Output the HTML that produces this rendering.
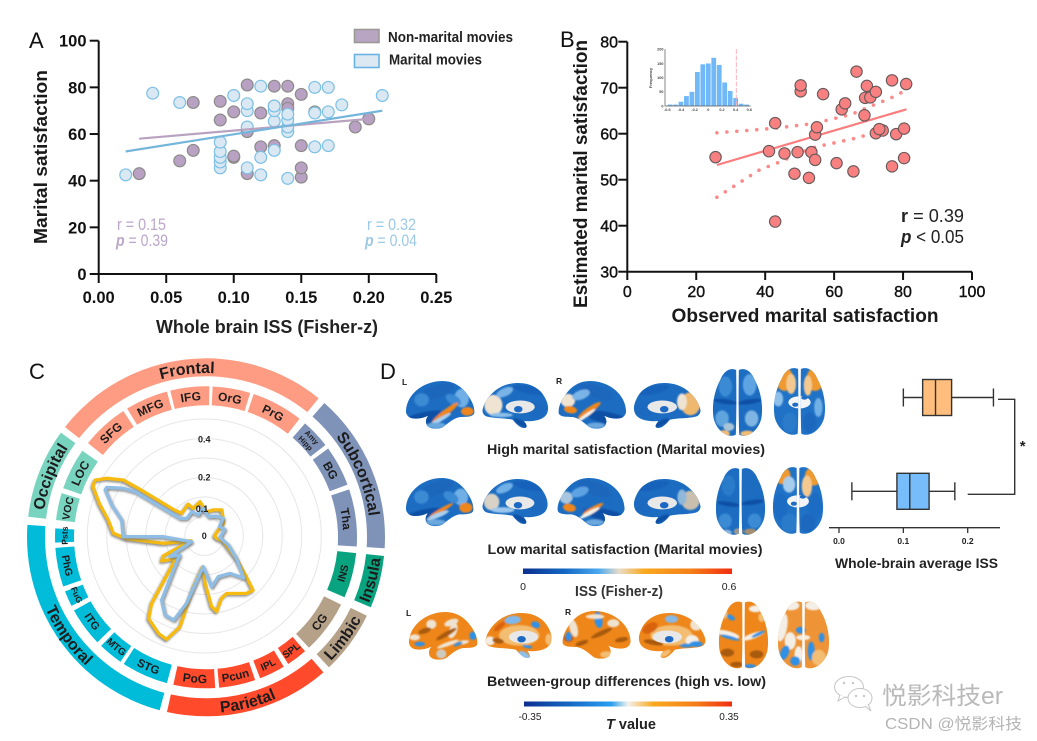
<!DOCTYPE html>
<html lang="en">
<head>
<meta charset="utf-8">
<title>Marital satisfaction and inter-subject synchrony figure</title>
<style>
html,body{margin:0;padding:0;background:#fff;}
svg{display:block;font-family:"Liberation Sans","Noto Sans CJK SC",sans-serif;}
</style>
</head>
<body>
<svg id="fig" xmlns="http://www.w3.org/2000/svg" width="1037" height="741" viewBox="0 0 1037 741">
<defs>
  <linearGradient id="issGrad" x1="0" x2="1" y1="0" y2="0">
    <stop offset="0" stop-color="#0b2f8f"/><stop offset=".2" stop-color="#1568c4"/><stop offset=".36" stop-color="#4aa8ee"/>
    <stop offset=".46" stop-color="#e9dcc8"/><stop offset=".58" stop-color="#f8a91f"/><stop offset=".8" stop-color="#f5801a"/><stop offset="1" stop-color="#f22d10"/>
  </linearGradient>
  <linearGradient id="tGrad" x1="0" x2="1" y1="0" y2="0">
    <stop offset="0" stop-color="#0b2f8f"/><stop offset=".22" stop-color="#1568c4"/><stop offset=".42" stop-color="#29a0f0"/>
    <stop offset=".5" stop-color="#f3f1ec"/><stop offset=".62" stop-color="#f8a91f"/><stop offset=".82" stop-color="#f5801a"/><stop offset="1" stop-color="#f22d10"/>
  </linearGradient>
  <filter id="soft" x="-20%" y="-20%" width="140%" height="140%"><feGaussianBlur stdDeviation="2.6"/></filter>
  <filter id="shadow" x="-20%" y="-20%" width="140%" height="140%"><feGaussianBlur stdDeviation="1.2"/></filter>
  <clipPath id="clip-lateral"><path d="M3,92 C5,55 35,18 85,6 C120,-2 155,5 180,35 C197,55 210,80 208,100 C205,112 185,112 165,112 C150,115 135,125 118,140 C105,150 80,150 68,140 C60,130 62,118 70,108 C50,118 25,120 12,112 C5,106 2,100 3,92 Z"/></clipPath>
  <clipPath id="clip-medial"><path d="M2,85 C10,50 45,12 90,5 C130,-2 175,10 195,50 C205,70 207,85 200,100 C190,118 160,125 130,122 C135,130 142,138 135,143 C120,148 105,130 95,118 C70,112 40,115 15,108 C5,104 0,95 2,85 Z"/></clipPath>
  <clipPath id="clip-axial"><path d="M72,6 C55,-2 35,8 25,35 C8,65 -2,110 5,150 C15,190 50,210 71,198 C73,140 73,70 72,6 Z M80,6 C97,-2 117,8 127,35 C144,65 154,110 147,150 C137,190 102,210 81,198 C79,140 79,70 80,6 Z"/></clipPath>
</defs>
<rect width="1037" height="741" fill="#fff"/>

<g id="panelA">
  <text x="29" y="48" font-size="22" fill="#111">A</text>
  <text transform="translate(47,157) rotate(-90)" text-anchor="middle" font-size="18.5" font-weight="bold" fill="#1a1a1a" textLength="174" lengthAdjust="spacingAndGlyphs">Marital satisfaction</text>
  <text x="267" y="333" text-anchor="middle" font-size="18.5" font-weight="bold" fill="#222" textLength="222" lengthAdjust="spacingAndGlyphs">Whole brain ISS (Fisher-z)</text>
  <rect x="354.5" y="29.5" width="24.5" height="13" fill="#b8a4c3" stroke="#9a9a95" stroke-width="1.6"/>
  <text x="388" y="42" font-size="14.5" font-weight="bold" fill="#222" textLength="125" lengthAdjust="spacingAndGlyphs">Non-marital movies</text>
  <rect x="354.5" y="54.5" width="24.5" height="13" fill="#dce9f3" stroke="#69b3e4" stroke-width="1.6"/>
  <text x="389" y="64.5" font-size="14.5" font-weight="bold" fill="#222" textLength="93" lengthAdjust="spacingAndGlyphs">Marital movies</text>
  <text x="117" y="230" font-size="16.5" fill="#bba6c9" textLength="49" lengthAdjust="spacingAndGlyphs">r = 0.15</text>
  <text x="116" y="246" font-size="16.5" fill="#bba6c9" textLength="52" lengthAdjust="spacingAndGlyphs"><tspan font-style="italic" font-weight="bold">p</tspan> = 0.39</text>
  <text x="367" y="230" font-size="16.5" fill="#9cc9e4" textLength="49" lengthAdjust="spacingAndGlyphs">r = 0.32</text>
  <text x="365" y="246" font-size="16.5" fill="#9cc9e4" textLength="52" lengthAdjust="spacingAndGlyphs"><tspan font-style="italic" font-weight="bold">p</tspan> = 0.04</text>
</g>

<g id="panelB">
  <text x="560" y="47" font-size="22" fill="#111">B</text>
  <text transform="translate(587,174) rotate(-90)" text-anchor="middle" font-size="19" font-weight="bold" fill="#1a1a1a" textLength="268" lengthAdjust="spacingAndGlyphs">Estimated marital satisfaction</text>
  <text x="805" y="322" text-anchor="middle" font-size="19" font-weight="bold" fill="#1a1a1a" textLength="267" lengthAdjust="spacingAndGlyphs">Observed marital satisfaction</text>
  <text x="901" y="222" font-size="18" fill="#222" textLength="63" lengthAdjust="spacingAndGlyphs"><tspan font-weight="bold">r</tspan>  = 0.39</text>
  <text x="901" y="243" font-size="18" fill="#222" textLength="63" lengthAdjust="spacingAndGlyphs"><tspan font-weight="bold" font-style="italic">p</tspan> &lt; 0.05</text>
</g>

<g id="panelC">
  <text x="29" y="379" font-size="22" fill="#111">C</text>
</g>

<g id="panelD">
  <text x="380" y="379" font-size="22" fill="#111">D</text>
  <text x="402" y="385" font-size="8.5" font-weight="bold" fill="#222">L</text>
  <text x="556" y="384" font-size="8.5" font-weight="bold" fill="#222">R</text>
  <text x="406" y="616" font-size="8.5" font-weight="bold" fill="#222">L</text>
  <text x="565" y="615" font-size="8.5" font-weight="bold" fill="#222">R</text>
  <g id="brains"></g>
  <text x="626" y="454" text-anchor="middle" font-size="14" font-weight="bold" fill="#222" textLength="278" lengthAdjust="spacingAndGlyphs">High marital satisfaction (Marital movies)</text>
  <text x="625" y="554" text-anchor="middle" font-size="14" font-weight="bold" fill="#222" textLength="275" lengthAdjust="spacingAndGlyphs">Low marital satisfaction (Marital movies)</text>
  <rect x="523" y="568.5" width="209" height="5.5" fill="url(#issGrad)"/>
  <text x="523" y="590" text-anchor="middle" font-size="10.5" fill="#222">0</text>
  <text x="729" y="590" text-anchor="middle" font-size="10.5" fill="#222">0.6</text>
  <text x="619" y="596" text-anchor="middle" font-size="14.5" font-weight="bold" fill="#333" textLength="88" lengthAdjust="spacingAndGlyphs">ISS (Fisher-z)</text>
  <text x="626.5" y="686" text-anchor="middle" font-size="14" font-weight="bold" fill="#222" textLength="279" lengthAdjust="spacingAndGlyphs">Between-group differences (high vs. low)</text>
  <rect x="524" y="701.5" width="208" height="5" fill="url(#tGrad)"/>
  <text x="530" y="720" text-anchor="middle" font-size="10" fill="#222">-0.35</text>
  <text x="729" y="720" text-anchor="middle" font-size="10" fill="#222">0.35</text>
  <text x="631" y="729" text-anchor="middle" font-size="14.5" font-weight="bold" fill="#222"><tspan font-style="italic">T</tspan> value</text>
</g>

<g id="boxplot">
  <text x="916.5" y="568" text-anchor="middle" font-size="14" font-weight="bold" fill="#222" textLength="163" lengthAdjust="spacingAndGlyphs">Whole-brain average ISS</text>
</g>

<g id="watermark">
  <g fill="#fff" stroke="#c6c6c6" stroke-width="1">
    <ellipse cx="849" cy="687" rx="14.5" ry="10.5"/>
    <path d="M840,695 L838,701 L845,697" />
    <ellipse cx="860" cy="698" rx="12" ry="9.5"/>
    <path d="M865,706 L871,711 L868,704"/>
  </g>
  <g fill="#c6c6c6">
    <circle cx="844" cy="683" r="1.2"/>
    <circle cx="853" cy="683" r="1.2"/>
    <circle cx="856" cy="696" r="1.2"/>
    <circle cx="864" cy="696" r="1.2"/>
  </g>
  <text x="882" y="704" font-size="24" fill="#b9b9b9" textLength="121" lengthAdjust="spacingAndGlyphs">悦影科技er</text>
  <text x="885" y="729" font-size="15.5" fill="#b4b4b4" textLength="137" lengthAdjust="spacingAndGlyphs">CSDN @悦影科技</text>
</g>

<script>
/* ---------- Panel A data ---------- */
const nonMaritalISS = [0.03,0.06,0.07,0.07,0.09,0.09,0.10,0.10,0.10,0.11,0.11,0.11,0.12,0.12,0.13,0.13,0.13,0.14,0.14,0.14,0.15,0.15,0.15,0.15,0.16,0.19,0.20];
const nonMaritalSat = [43,48.5,53,73.5,66,74,50,50.5,69.5,43,61,81,54.5,69,55,80.5,72,73,80.5,71,41.5,45.5,55,77,69.5,63,66.5];
const maritalISS = [0.02,0.04,0.06,0.09,0.09,0.09,0.09,0.09,0.10,0.11,0.11,0.11,0.11,0.12,0.12,0.12,0.13,0.13,0.13,0.13,0.14,0.14,0.14,0.14,0.14,0.16,0.16,0.16,0.17,0.17,0.17,0.18,0.21];
const maritalSat = [42.5,77.5,73.5,45.5,48,50,52.5,56.5,76.5,45.5,63,70,73,42.5,50,80.5,53,65.5,70,72,41,61,63,66,68.5,54.5,69,80,55,69.5,80,72.5,76.5];
const nonMaritalFitX = [0.03,0.20];
const nonMaritalFitY = [58,66.5];
const maritalFitX = [0.02,0.21];
const maritalFitY = [52.5,70];
const aXTicks = [0,0.05,0.10,0.15,0.20,0.25];
const aXTickLabels = ["0.00","0.05","0.10","0.15","0.20","0.25"];
const aYTicks = [0,20,40,60,80,100];

/* ---------- Panel B data ---------- */
const observedSat = [25.6,42.9,42.9,41.1,45.6,48.5,49.4,50.3,50.3,52.7,53.4,54.5,54.5,55,56.8,60.7,62.2,63.2,65.6,66.5,68.8,69,69.5,70.5,72.1,72.1,74.1,73.1,76.8,76.8,78,80.3,80.3,80.9];
const estimatedSat = [54.9,62.3,40.9,56.2,55.7,51.3,56,69.2,70.5,50.4,56,54.3,59.8,61.4,68.6,53.6,65.3,66.6,51.8,73.5,64,67.8,70.4,67.9,69.1,60.1,60.7,61,71.6,52.9,59.9,61.1,54.7,70.8];
const fitBX = [26,81];
const fitBY = [53.2,65.3];
const ciX = [26,38,44,53,55,65,70,76,81];
const ciUpper = [60.2,60.9,61.3,62.1,62.4,64.2,65.8,67.6,69.5];
const ciLower = [46.2,52,53.8,56.7,57.2,58.8,59.8,60.4,60.8];
const bXTicks = [0,20,40,60,80,100];
const bYTicks = [30,40,50,60,70,80];

/* ---------- Inset histogram data ---------- */
const histCounts = [5,5,15,35,50,120,147,150,170,145,83,53,28,8,5];
const histStart = -0.6;
const histBin = 0.08;
const histObserved = 0.41;
const histXTicks = [-0.6,-0.4,-0.2,0,0.2,0.4,0.6];
const histYTicks = [0,50,100,150,200];

/* ---------- Panel C data ---------- */
const groupNames = ["Frontal","Subcortical","Insula","Limbic","Parietal","Temporal","Occipital"];
const groupStarts = [-52,41.4,96,116,139,195,276.6];
const groupEnds = [39,93.5,113,136.6,192.6,274,305.8];
const groupColors = ["#fd9c82","#7f93b8","#0aa37f","#b5a088","#ff4a2b","#00bcd8","#78d3bf"];
const regionNames = ["SFG","MFG","IFG","OrG","PrG","Amy|Hipp","BG","Tha","INS","CG","SPL","IPL","Pcun","PoG","STG","MTG","ITG","FuG","PhG","Psts","VOC","LOC"];
const regionStarts = [-51.4,-31.5,-13.7,2.5,18.4,41,54,71.5,96,116.5,139,149,161,176.5,195,214.5,226,243,251,268,276.6,289];
const regionEnds = [-33.2,-15,1.3,17,38.3,52.3,69.6,93.5,113.4,137,147,159,175,192.5,213,224,241,249,266,273.4,287,305];
const regionGroups = [0,0,0,0,0,1,1,1,2,3,4,4,4,4,5,5,5,5,5,5,6,6];
const regionFontSizes = [12,12,12,12,12,7.5,12,12,10.5,12,10,10,11.5,12,11.5,10,11,8.5,10.5,8.5,10.5,12];
const highAngles = [353,5.5,19,34,57,67,90,101,105,125,134,138,143.6,158.7,164.5,170.7,174,179,183,192,195,200,205,214,218,228.6,231,239.6,244,247,250,260,268,271.7,279.5,287,294,297,300.6,304.7,306,311,315,333,338];
const highValues = [.144,.101,.115,.131,.097,.064,.042,.053,.081,.164,.244,.304,.297,.257,.269,.319,.296,.197,.128,.217,.392,.458,.449,.415,.356,.172,.149,.206,.19,.096,.058,.174,.324,.379,.406,.456,.508,.511,.472,.41,.331,.165,.133,.149,.124];
const lowAngles = [306,315,332.5,344,358,11.7,31.7,47,58,72,95,110.5,125,137,145.5,161,171.8,182,188,194.7,200,206.5,213.7,227,232,239,240.5,246,269,269.5,281,288.5,295,296.5,300.5,302.6];
const lowValues = [.125,.104,.114,.092,.115,.082,.097,.108,.074,.09,.065,.107,.164,.24,.189,.179,.214,.128,.171,.29,.373,.368,.321,.157,.129,.167,.132,.058,.171,.338,.351,.407,.456,.454,.392,.343];
const ringLevels = [1,2,3,4,5,6];
const radarTickLabels = ["0","0.1","0.2","0.4"];

/* ---------- Boxplot data ---------- */
const boxHigh = [0.10,0.13,0.15,0.175,0.24];
const boxLow = [0.02,0.09,0.11,0.14,0.18];
const boxTicks = [0,0.1,0.2];
const boxTickLabels = ["0.0","0.1","0.2"];

const NS = "http://www.w3.org/2000/svg";
function el(tag, attrs, parent){
  const e = document.createElementNS(NS, tag);
  for (const k in attrs) e.setAttribute(k, attrs[k]);
  if (parent) parent.appendChild(e);
  return e;
}
const xA = v => 98.7 + v * 1350.4;
const yA = v => 274 - v * 2.333;
const xB = v => 627.3 + v * 3.447;
const yB = v => 271.7 - (v - 30) * 4.6;
const xH = v => 708.3 + v * 68.33;
const yH = v => 106 - v * 0.2835;
const xBox = v => 839 + v * 643.5;
const pathOf = (xs, ys, fx, fy) => xs.map((x, i) => (i ? "L" : "M") + fx(x).toFixed(1) + "," + fy(ys[i]).toFixed(1)).join(" ");

/* ---------- Panel A ---------- */
const pA = document.getElementById("panelA");
aYTicks.forEach(t => {
  const tick = el("line", {x1: 89.7, x2: 98.7, y1: yA(t), y2: yA(t), stroke: "#111", "stroke-width": 2}, pA);
  
  
  const lab = el("text", {x: 86.5, y: yA(t) + 6, "text-anchor": "end", "font-size": 16.5, "font-weight": "bold", fill: "#111"}, pA);
  
  
  lab.textContent = t;
});
aXTicks.forEach((t, i) => {
  const tick = el("line", {x1: xA(t), x2: xA(t), y1: 274, y2: 283, stroke: "#111", "stroke-width": 2}, pA);
  
  
  const lab = el("text", {x: xA(t), y: 303, "text-anchor": "middle", "font-size": 16.5, "font-weight": "bold", fill: "#111"}, pA);
  
  
  lab.textContent = aXTickLabels[i];
});
const aAxis = el("path", {d: `M${xA(0)},${yA(100)} V${yA(0)} H${xA(0.25)}`, fill: "none", stroke: "#111", "stroke-width": 2}, pA);


nonMaritalISS.forEach((x, i) => {
  const c = el("circle", {cx: xA(x), cy: yA(nonMaritalSat[i]), r: 5.9, fill: "#b9a1c4", stroke: "#8b8b88", "stroke-width": 1.2}, pA);
  
  
});
maritalISS.forEach((x, i) => {
  const c = el("circle", {cx: xA(x), cy: yA(maritalSat[i]), r: 5.9, fill: "#d9e8f2", stroke: "#7cc0e6", "stroke-width": 1.2}, pA);
  
  
});
const fitN = el("path", {d: pathOf(nonMaritalFitX, nonMaritalFitY, xA, yA), stroke: "#b8a2c0", "stroke-width": 2.2, fill: "none"}, pA);


const fitM = el("path", {d: pathOf(maritalFitX, maritalFitY, xA, yA), stroke: "#74b5dc", "stroke-width": 2.2, fill: "none"}, pA);



/* ---------- Panel B ---------- */
const pB = document.getElementById("panelB");
bYTicks.forEach(t => {
  const tick = el("line", {x1: 618.3, x2: 627.3, y1: yB(t), y2: yB(t), stroke: "#111", "stroke-width": 2}, pB);
  
  
  const lab = el("text", {x: 618, y: yB(t) + 6, "text-anchor": "end", "font-size": 16, fill: "#111", stroke: "#111", "stroke-width": 0.4}, pB);
  
  
  lab.textContent = t;
});
bXTicks.forEach(t => {
  const tick = el("line", {x1: xB(t), x2: xB(t), y1: 271.7, y2: 280, stroke: "#111", "stroke-width": 2}, pB);
  
  
  const lab = el("text", {x: xB(t), y: 297, "text-anchor": "middle", "font-size": 16, fill: "#111", stroke: "#111", "stroke-width": 0.4}, pB);
  
  
  lab.textContent = t;
});
const bAxis = el("path", {d: `M${xB(0)},${yB(80)} V${yB(30)} H${xB(100)}`, fill: "none", stroke: "#111", "stroke-width": 2}, pB);


const ciU = el("path", {d: pathOf(ciX, ciUpper, xB, yB), fill: "none", stroke: "#fb8a8a", "stroke-width": 3.6, "stroke-linecap": "round", "stroke-dasharray": "0 10"}, pB);


const ciL = el("path", {d: pathOf(ciX, ciLower, xB, yB), fill: "none", stroke: "#fb8a8a", "stroke-width": 3.6, "stroke-linecap": "round", "stroke-dasharray": "0 10"}, pB);


const fitB = el("path", {d: pathOf(fitBX, fitBY, xB, yB), stroke: "#fb7d7d", "stroke-width": 2.2, fill: "none"}, pB);


observedSat.forEach((x, i) => {
  const c = el("circle", {cx: xB(x), cy: yB(estimatedSat[i]), r: 5.7, fill: "#f98080", stroke: "#66595a", "stroke-width": 1.1}, pB);
  
  
});

/* inset histogram */
const inset = el("g", {}, pB);


histCounts.forEach((n, i) => {
  const left = histStart + i * histBin;
  const b = el("rect", {x: xH(left) + 0.35, y: yH(n), width: (xH(left + histBin) - xH(left)) - 0.7, height: 106 - yH(n), fill: "#70b8f8"}, inset);
  
  
});
const histAxis = el("path", {d: `M665,${yH(200)} V106 H${xH(0.62)}`, fill: "none", stroke: "#555", "stroke-width": 0.7}, inset);


const obs = el("line", {x1: xH(histObserved), x2: xH(histObserved), y1: 49, y2: 106, stroke: "#f9b5bb", "stroke-width": 1, "stroke-dasharray": "5 1.5"}, inset);


histYTicks.forEach(t => {
  const lab = el("text", {x: 663.5, y: yH(t) + 1.3, "text-anchor": "end", "font-size": 3.8, "font-weight": "bold", fill: "#444"}, inset);
  
  
  lab.textContent = t;
});
histXTicks.forEach(t => {
  const lab = el("text", {x: xH(t), y: 111, "text-anchor": "middle", "font-size": 3.8, "font-weight": "bold", fill: "#444"}, inset);
  
  
  lab.textContent = t;
});
const fq = el("text", {transform: "translate(652,78) rotate(-90)", "text-anchor": "middle", "font-size": 4, "font-weight": "bold", fill: "#444"}, inset);


fq.textContent = "Frequency";

/* ---------- Panel C ---------- */
const pC = document.getElementById("panelC");
const cx = 206, cy = 537.3, rx0 = 204.3, ry0 = 536;
const rRadar = v => v * 240;
const pol = (ox, oy, r, deg) => {
  const a = deg * Math.PI / 180;
  return [ox + r * Math.sin(a), oy - r * Math.cos(a)];
};
function sector(r0, r1, a0, a1){
  const p1 = pol(cx, cy, r1, a0), p2 = pol(cx, cy, r1, a1), p3 = pol(cx, cy, r0, a1), p4 = pol(cx, cy, r0, a0);
  const big = (a1 - a0) > 180 ? 1 : 0;
  return `M${p1} A${r1},${r1} 0 ${big} 1 ${p2} L${p3} A${r0},${r0} 0 ${big} 0 ${p4} Z`;
}
let arcId = 0;
function arcLabel(parent, txt, r0, r1, a0, a1, fs, name){
  const mid = (((a0 + a1) / 2) % 360 + 360) % 360;
  const flip = mid > 90 && mid < 270;
  const rm = (r0 + r1) / 2;
  const rb = flip ? rm + fs * 0.36 : rm - fs * 0.36;
  const pad = 25;
  const s = pol(cx, cy, rb, flip ? a1 + pad : a0 - pad);
  const e = pol(cx, cy, rb, flip ? a0 - pad : a1 + pad);
  const id = "arc" + (arcId++);
  const big = (a1 - a0 + 2 * pad) > 180 ? 1 : 0;
  el("path", {id: id, d: `M${s} A${rb},${rb} 0 ${big} ${flip ? 0 : 1} ${e}`, fill: "none"}, pC);
  const t = el("text", {"font-size": fs, "font-weight": "bold", fill: "#1c1c1c", "text-anchor": "middle"}, parent);
  
  
  const tp = el("textPath", {href: "#" + id, startOffset: "50%"}, t);
  tp.textContent = txt;
}
groupNames.forEach((n, i) => {
  const p = el("path", {d: sector(161, 179, groupStarts[i], groupEnds[i]), fill: groupColors[i]}, pC);
  
  
  arcLabel(pC, n, 161, 179, groupStarts[i], groupEnds[i], 16, 'group-label-' + n.toLowerCase());
});
regionNames.forEach((n, i) => {
  const p = el("path", {d: sector(132, 151, regionStarts[i], regionEnds[i]), fill: groupColors[regionGroups[i]]}, pC);
  
  
  const parts = n.split("|");
  if (parts.length === 1) {
    arcLabel(pC, n, 132, 151, regionStarts[i], regionEnds[i], regionFontSizes[i], 'region-label');
  } else {
    arcLabel(pC, parts[0], 140.5, 151, regionStarts[i], regionEnds[i], regionFontSizes[i], 'region-label');
    arcLabel(pC, parts[1], 132, 142.5, regionStarts[i], regionEnds[i], regionFontSizes[i], 'region-label');
  }
});
ringLevels.forEach(k => {
  const c = el("circle", {cx: rx0, cy: ry0, r: k * 19.5, fill: "none", stroke: "#e6e6e6", "stroke-width": 1}, pC);
  
  
});
function radarPath(angles, values){
  return angles.map((a, i) => (i ? "L" : "M") + pol(rx0, ry0, rRadar(values[i]), a).map(v => v.toFixed(1)).join(",")).join(" ") + " Z";
}
const shHigh = el("path", {d: radarPath(highAngles, highValues), transform: "translate(-1,1.5)", fill: "none", stroke: "#777", "stroke-width": 2.8, filter: "url(#shadow)", "stroke-linejoin": "round"}, pC);


const lineHigh = el("path", {d: radarPath(highAngles, highValues), fill: "none", stroke: "#f6bb0e", "stroke-width": 3.3, "stroke-linejoin": "round"}, pC);


const shLow = el("path", {d: radarPath(lowAngles, lowValues), transform: "translate(1,1.5)", fill: "none", stroke: "#777", "stroke-width": 2.8, filter: "url(#shadow)", "stroke-linejoin": "round"}, pC);


const lineLow = el("path", {d: radarPath(lowAngles, lowValues), fill: "none", stroke: "#8fbde3", "stroke-width": 3.3, "stroke-linejoin": "round"}, pC);


const radarLabelY = {"0": 539, "0.1": 512, "0.2": 480.5, "0.4": 442.5};
radarTickLabels.forEach(t => {
  const lab = el("text", {x: t === "0.1" ? 202 : 204.3, y: radarLabelY[t], "text-anchor": "middle", "font-size": 9, "font-weight": "bold", fill: "#222"}, pC);
  
  
  lab.textContent = t;
});

/* ---------- Boxplot ---------- */
const bxp = document.getElementById("boxplot");
function drawBox(q, yc, fill, name){
  const g = el("g", {stroke: "#333", "stroke-width": 1.4}, bxp);
  
  
  el("line", {x1: xBox(q[0]), x2: xBox(q[4]), y1: yc, y2: yc}, g);
  el("line", {x1: xBox(q[0]), x2: xBox(q[0]), y1: yc - 9, y2: yc + 9}, g);
  el("line", {x1: xBox(q[4]), x2: xBox(q[4]), y1: yc - 9, y2: yc + 9}, g);
  el("rect", {x: xBox(q[1]), y: yc - 18, width: xBox(q[3]) - xBox(q[1]), height: 36, fill: fill}, g);
  el("line", {x1: xBox(q[2]), x2: xBox(q[2]), y1: yc - 18, y2: yc + 18}, g);
}
drawBox(boxHigh, 397.5, "#ffbe7d", "box-high-satisfaction");
drawBox(boxLow, 491.3, "#78bdfb", "box-low-satisfaction");
const bracket = el("path", {d: "M998,399.3 H1014.7 V494.3 H967.7", fill: "none", stroke: "#333", "stroke-width": 1.4}, bxp);


const star = el("text", {x: 1022.7, y: 451, "text-anchor": "middle", "font-size": 15, "font-weight": "bold", fill: "#222"}, bxp);


star.textContent = "*";
const bAx = el("line", {x1: 829, x2: 1000, y1: 527.7, y2: 527.7, stroke: "#333", "stroke-width": 1.3}, bxp);


boxTicks.forEach((t, i) => {
  const tick = el("line", {x1: xBox(t), x2: xBox(t), y1: 527.7, y2: 533, stroke: "#333", "stroke-width": 1.3}, bxp);
  
  
  const lab = el("text", {x: xBox(t), y: 544, "text-anchor": "middle", "font-size": 8.5, "font-weight": "bold", fill: "#222"}, bxp);
  
  
  lab.textContent = boxTickLabels[i];
});

/* ---------- Brain illustrations ---------- */
const brains = document.getElementById("brains");
const C = {b:"#1c6dc2", d:"#0e4fa4", m:"#3a8ad4", l:"#8cc0ea", o:"#ee861a", r:"#d9640e", t:"#f3bd72", w:"#efe3d2", g:"#cfcac0", s:"#2f90e6", dk:"#a85a10", vl:"#f4efe6"};
function brain(kind, x, y, w, h, flip, base, patches, center, name){
  const sw = kind === "axial" ? 152 : 210, sh = kind === "axial" ? 205 : 150;
  const sx = w / sw, sy = h / sh;
  const g = el("g", {transform: flip ? `translate(${x + w},${y}) scale(${-sx},${sy})` : `translate(${x},${y}) scale(${sx},${sy})`, "clip-path": `url(#clip-${kind})`}, brains);
  
  
  el("rect", {x: -5, y: -5, width: 225, height: 225, fill: base}, g);
  const inner = el("g", {filter: "url(#soft)"}, g);
  patches.forEach(p => {
    el("ellipse", {cx: p[0], cy: p[1], rx: p[2], ry: p[3], fill: p[5], transform: `rotate(${p[4]} ${p[0]} ${p[1]})`}, inner);
  });
  if (center === "medial") {
    el("ellipse", {cx: 118, cy: 78, rx: 45, ry: 20, fill: "#e8e8e8"}, g);
    el("ellipse", {cx: 112, cy: 85, rx: 13, ry: 10, fill: "#1d68c2"}, g);
  }
  if (center === "axial") {
    el("ellipse", {cx: 76, cy: 105, rx: 32, ry: 18, fill: "#f5f5f5"}, g);
    el("ellipse", {cx: 64, cy: 112, rx: 9, ry: 6, fill: "#1f6cc4"}, g);
    el("ellipse", {cx: 90, cy: 92, rx: 9, ry: 5, fill: "#1f6cc4"}, g);
  }
}
const latHigh = [[60,115,70,18,-12,C.d],[95,35,55,20,-20,"#1c66bc"],[50,60,22,20,0,C.m],[170,55,22,28,0,"#6fb0e6"],[145,60,25,14,30,C.m],[120,100,50,9,-38,C.o],[105,120,38,6,-30,"#a9d0ee"],[187,95,19,13,0,C.o],[95,138,30,9,0,"#6aa8de"]];
const latLow = [[60,115,70,18,-12,C.d],[95,35,55,20,-20,"#1c66bc"],[50,60,22,20,0,C.m],[170,60,22,25,0,"#6fb0e6"],[140,60,25,14,30,C.m],[110,100,42,6,-30,C.o],[100,115,36,7,-22,"#a9d0ee"],[185,92,20,15,0,C.o],[95,136,30,9,0,"#6aa8de"]];
const medHigh = [[35,72,28,32,0,C.w],[70,32,28,13,-25,"#7ab4e6"],[145,25,50,13,12,"#1462ba"],[120,128,25,8,30,C.d],[60,103,35,7,0,"#8cc0ea"],[170,85,30,26,0,"#1c6ac0"]];
const medLow = [[30,75,24,26,0,"#d9d2c6"],[70,32,28,13,-25,"#6fb0e6"],[145,25,50,13,12,"#1462ba"],[120,128,25,8,30,C.d],[65,100,36,9,0,"#9cc8ee"],[170,85,30,26,0,"#1c6ac0"]];
const latRHigh = [[60,115,70,18,-12,C.d],[95,35,55,20,-20,"#1c66bc"],[180,62,22,20,0,C.w],[172,90,20,11,-10,C.o],[115,92,42,9,35,C.o],[125,108,35,5,35,"#f3f0e6"],[140,45,28,14,20,"#7ab4e6"],[95,138,28,9,0,"#6aa8de"]];
const latRLow = [[60,115,70,18,-12,C.d],[95,35,55,20,-20,"#1c66bc"],[182,62,20,18,0,"#a8c6de"],[172,92,20,12,-10,C.o],[100,96,36,7,28,C.o],[110,108,35,6,28,"#f3f0e6"],[140,45,28,14,20,"#5da2e2"],[95,136,28,9,0,"#6aa8de"]];
const medRHigh = [[32,68,30,36,0,"#eeb86e"],[58,62,15,26,0,C.w],[145,25,50,13,12,"#1462ba"],[120,128,25,8,30,C.d],[170,85,30,26,0,"#1c6ac0"]];
const medRLow = [[32,70,28,30,0,"#c9bfae"],[58,60,14,24,0,"#8fb8da"],[145,25,50,13,12,"#1462ba"],[120,128,25,8,30,C.d],[170,85,30,26,0,"#1c6ac0"]];
const topHigh = [[40,55,20,30,0,C.m],[112,50,20,32,0,"#5ea4e2"],[40,100,36,7,8,C.d],[112,100,36,7,-8,C.d],[30,150,20,24,0,"#5fa4dc"],[118,150,20,24,0,"#7fb5e2"],[50,175,16,12,0,"#a9c4d6"],[35,195,18,10,0,C.t],[105,195,20,9,0,C.t]];
const topLow = [[40,55,20,30,0,"#2a7ccb"],[112,55,20,30,0,"#1c6cc0"],[40,110,34,7,8,C.d],[112,105,34,7,-8,C.d],[30,160,20,22,0,C.m],[118,160,20,22,0,C.m],[70,192,14,10,0,"#9f9a90"],[105,192,18,9,0,"#a88f6e"],[35,195,15,9,0,"#8fb8da"]];
const botHigh = [[32,35,26,36,-5,"#ee9a2e"],[122,35,26,36,5,"#ee9a2e"],[52,50,14,30,0,"#f3c98f"],[100,55,12,30,0,"#f3c98f"],[15,95,14,22,0,"#8cc0ea"],[130,120,12,28,0,"#6fb0e6"],[48,165,20,30,0,"#2a7ccb"],[105,165,20,30,0,"#1c68be"]];
const botLow = [[30,28,24,26,-5,"#ee9a2e"],[122,30,26,28,5,"#ee9a2e"],[50,55,18,24,0,"#a7cdec"],[102,60,15,32,0,"#f3c98f"],[25,120,20,40,0,"#1d6cc4"],[125,120,20,40,0,"#1d6cc4"],[50,170,22,28,0,"#2a7ccb"],[105,170,22,28,0,"#1c68be"]];
const latDiffL = [[70,40,15,14,0,C.w],[130,35,22,10,-20,C.w],[135,60,12,24,20,C.w],[115,70,35,7,-30,C.dk],[20,80,16,9,0,C.w],[35,100,16,7,0,C.s],[195,75,11,13,0,C.s],[165,95,18,6,-10,C.w],[120,100,35,6,-20,C.w],[100,130,15,14,0,C.g],[150,100,14,5,-20,C.s],[50,60,20,8,-20,C.dk]];
const medDiffL = [[105,73,62,32,0,C.t],[85,25,25,13,-5,"#7fb8ee"],[155,40,14,10,20,C.s],[15,90,15,14,0,C.vl],[195,85,10,18,0,C.t],[45,45,22,8,-40,C.r],[130,108,16,5,10,C.s],[120,135,20,10,30,C.l],[40,90,18,8,10,C.dk]];
const latDiffR = [[175,55,12,28,15,C.w],[100,30,12,25,10,C.s],[55,40,18,12,0,C.w],[190,85,14,12,0,C.dk],[190,80,9,14,0,C.s],[30,90,20,7,10,C.dk],[90,70,35,7,25,C.dk],[110,20,28,7,0,C.w],[150,100,20,7,20,C.dk],[75,135,20,10,0,C.t]];
const medDiffR = [[105,73,64,32,0,C.t],[105,22,20,12,0,"#86b7e6"],[42,90,20,18,0,C.vl],[30,40,18,18,0,C.w],[30,100,20,9,0,C.s],[170,50,25,15,30,C.r],[160,95,30,8,-10,C.dk],[125,130,20,8,30,C.t],[60,105,20,6,0,C.s]];
const topDiff = [[38,50,14,7,30,C.s],[112,25,20,10,0,C.vl],[30,100,35,9,15,C.vl],[35,110,30,5,15,C.s],[105,105,35,8,-20,C.vl],[120,100,22,5,-25,C.s],[28,155,20,12,0,C.dk],[115,160,20,12,0,C.dk],[55,190,18,8,0,C.dk],[95,195,18,6,0,C.s],[20,40,8,14,0,C.t],[130,50,10,14,0,C.t]];
const botDiff = [[40,15,24,14,0,C.vl],[105,15,24,14,0,C.vl],[15,80,14,42,10,C.vl],[38,120,16,26,0,C.vl],[68,88,14,10,0,C.s],[75,110,20,8,0,C.vl],[22,155,12,22,20,C.s],[62,160,12,24,0,C.vl],[98,150,10,28,0,C.s],[120,170,20,24,0,C.t],[52,180,14,14,0,C.s],[128,110,8,14,0,C.s]];
const rowNames = ["high","low","diff"];
/* row 1 */
brain("lateral", 405, 380, 70, 49.5, false, C.b, latHigh, null, "brain-high-lateral-left");
brain("medial", 482, 382, 68, 48, false, C.b, medHigh, "medial", "brain-high-medial-left");
brain("lateral", 558, 380, 69, 49.5, true, C.b, latRHigh, null, "brain-high-lateral-right");
brain("medial", 632, 382, 69, 48, true, C.b, medRHigh, "medial", "brain-high-medial-right");
brain("axial", 712, 368, 51, 69, false, C.b, topHigh, null, "brain-high-dorsal");
brain("axial", 773, 367, 53, 69, false, "#2072c6", botHigh, "axial", "brain-high-ventral");
/* row 2 */
brain("lateral", 405, 477, 69, 50, false, C.b, latLow, null, "brain-low-lateral-left");
brain("medial", 482, 478, 67.5, 48, false, C.b, medLow, "medial", "brain-low-medial-left");
brain("lateral", 557, 477, 68.5, 50, true, C.b, latRLow, null, "brain-low-lateral-right");
brain("medial", 632, 478, 69, 48, true, C.b, medRLow, "medial", "brain-low-medial-right");
brain("axial", 715, 467, 51, 69, false, C.b, topLow, null, "brain-low-dorsal");
brain("axial", 772, 466, 52, 69, false, "#2072c6", botLow, "axial", "brain-low-ventral");
/* row 3 */
brain("lateral", 408, 611, 70, 49.5, false, C.o, latDiffL, null, "brain-diff-lateral-left");
brain("medial", 485, 612, 68.5, 48, false, C.o, medDiffL, "medial", "brain-diff-medial-left");
brain("lateral", 562, 610, 69.5, 49.5, true, C.o, latDiffR, null, "brain-diff-lateral-right");
brain("medial", 637, 612, 69, 48, true, C.o, medDiffR, "medial", "brain-diff-medial-right");
brain("axial", 718, 600.5, 51, 69, false, C.o, topDiff, null, "brain-diff-dorsal");
brain("axial", 777, 600.5, 53, 69, false, "#ee9336", botDiff, null, "brain-diff-ventral");
</script>
</svg>
</body>
</html>
